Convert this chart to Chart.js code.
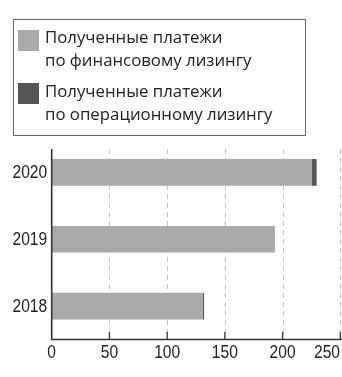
<!DOCTYPE html>
<html>
<head>
<meta charset="utf-8">
<script src="https://cdn.jsdelivr.net/npm/chart.js@4/dist/chart.umd.min.js"></script>
<style>
  html, body { margin: 0; padding: 0; background: #fff; }
  #wrap { position: relative; width: 342px; height: 377px; overflow: hidden; }
  #chart { position: absolute; left: 0; top: 0; }
  #legend {
    position: absolute; left: 13px; top: 19px; width: 293px; height: 117px;
    border: 1px solid #666; box-sizing: border-box;
    font-family: "Open Sans", sans-serif; font-size: 16.8px; color: #222;
  }
  .sw { position: absolute; width: 21px; height: 21px; }
  .ln { position: absolute; left: 31px; white-space: nowrap; line-height: 1; }
</style>
</head>
<body>
<div id="wrap">
  <canvas id="chart" width="342" height="377"></canvas>
  <div id="legend"></div>
</div>
<script>
// Years, top to bottom
const years = ['2020', '2019', '2018'];
// Received payments, finance lease
const financeLease = [225.5, 192.6, 131];
// Received payments, operating lease
const operatingLease = [4, 0.4, 1];
// Value axis ticks
const xTicks = [0, 50, 100, 150, 200, 250];

const seriesNames = [
  ['Полученные платежи', 'по финансовому лизингу'],
  ['Полученные платежи', 'по операционному лизингу']
];
const seriesColors = ['#aaaaaa', '#555555'];

// Legend box
const legend = document.getElementById('legend');
const legendRows = [
  { sw: 10, lines: [9, 32] },
  { sw: 63, lines: [63, 86] }
];
seriesNames.forEach((lines, i) => {
  const sw = document.createElement('div');
  sw.className = 'sw';
  sw.style.left = '4px';
  sw.style.top = legendRows[i].sw + 'px';
  sw.style.background = seriesColors[i];
  legend.appendChild(sw);
  lines.forEach((t, j) => {
    const d = document.createElement('div');
    d.className = 'ln';
    d.style.top = legendRows[i].lines[j] + 'px';
    d.textContent = t;
    legend.appendChild(d);
  });
});

// Tick labels use a horizontally condensed sans
const tickFont = '19px "Liberation Sans", Arial, sans-serif';
const condense = 0.82;

function drawCondensed(ctx, text, cx, cy, align) {
  ctx.save();
  ctx.translate(cx, cy);
  ctx.scale(condense, 1);
  ctx.textAlign = align;
  ctx.fillText(text, 0, 0);
  ctx.restore();
}

// Dashed grid, axis lines, inner tick marks and tick labels
const axisPlugin = {
  id: 'axisDecor',
  beforeDatasetsDraw(chart) {
    const { ctx, chartArea } = chart;
    const x = chart.scales.x;
    const gridTop = chartArea.top + 10;
    ctx.save();
    ctx.strokeStyle = '#c4c4c4';
    ctx.lineWidth = 1;
    ctx.setLineDash([5, 4]);
    xTicks.forEach(v => {
      if (v === 0) return;
      const px = Math.round(x.getPixelForValue(v)) + 0.5;
      ctx.beginPath();
      ctx.moveTo(px, gridTop);
      ctx.lineTo(px, chartArea.bottom);
      ctx.stroke();
    });
    ctx.restore();
  },
  afterDatasetsDraw(chart) {
    const { ctx, chartArea } = chart;
    const x = chart.scales.x;
    const y = chart.scales.y;
    const gridTop = chartArea.top + 10;
    const x0 = x.getPixelForValue(0);
    ctx.save();
    ctx.strokeStyle = '#333';
    ctx.lineWidth = 1.6;
    ctx.beginPath();
    ctx.moveTo(x0, gridTop);
    ctx.lineTo(x0, chartArea.bottom);
    ctx.lineTo(chart.width, chartArea.bottom);
    ctx.stroke();
    ctx.lineWidth = 1.3;
    xTicks.forEach(v => {
      if (v === 0) return;
      const px = x.getPixelForValue(v);
      ctx.beginPath();
      ctx.moveTo(px, chartArea.bottom);
      ctx.lineTo(px, chartArea.bottom - 7.5);
      ctx.stroke();
    });
    ctx.fillStyle = '#222';
    ctx.font = tickFont;
    ctx.textBaseline = 'middle';
    xTicks.forEach(v => {
      const label = String(v);
      const w = ctx.measureText(label).width * condense;
      let cx = x.getPixelForValue(v);
      const maxRight = chart.width - 2;
      if (cx + w / 2 > maxRight) cx = maxRight - w / 2;
      drawCondensed(ctx, label, cx, chartArea.bottom + 13.5, 'center');
    });
    years.forEach((label, i) => {
      drawCondensed(ctx, label, x0 - 4.5, y.getPixelForValue(i) + 0.5, 'right');
    });
    ctx.restore();
  }
};

new Chart(document.getElementById('chart'), {
  type: 'bar',
  data: {
    labels: years,
    datasets: [
      { label: seriesNames[0].join(' '), data: financeLease, backgroundColor: seriesColors[0] },
      { label: seriesNames[1].join(' '), data: operatingLease, backgroundColor: seriesColors[1] }
    ]
  },
  options: {
    indexAxis: 'y',
    responsive: false,
    animation: false,
    devicePixelRatio: 1,
    layout: { padding: { top: 139, bottom: 37.5, left: 0, right: 1.7 } },
    datasets: { bar: { barPercentage: 0.4, categoryPercentage: 1 } },
    plugins: { legend: { display: false }, tooltip: { enabled: false } },
    scales: {
      x: {
        display: false,
        stacked: true,
        min: 0,
        max: 250
      },
      y: {
        stacked: true,
        grid: { display: false, drawTicks: false },
        border: { display: false },
        ticks: { display: false },
        afterFit(s) { s.width = 51.7; }
      }
    }
  },
  plugins: [axisPlugin]
});
</script>
</body>
</html>
